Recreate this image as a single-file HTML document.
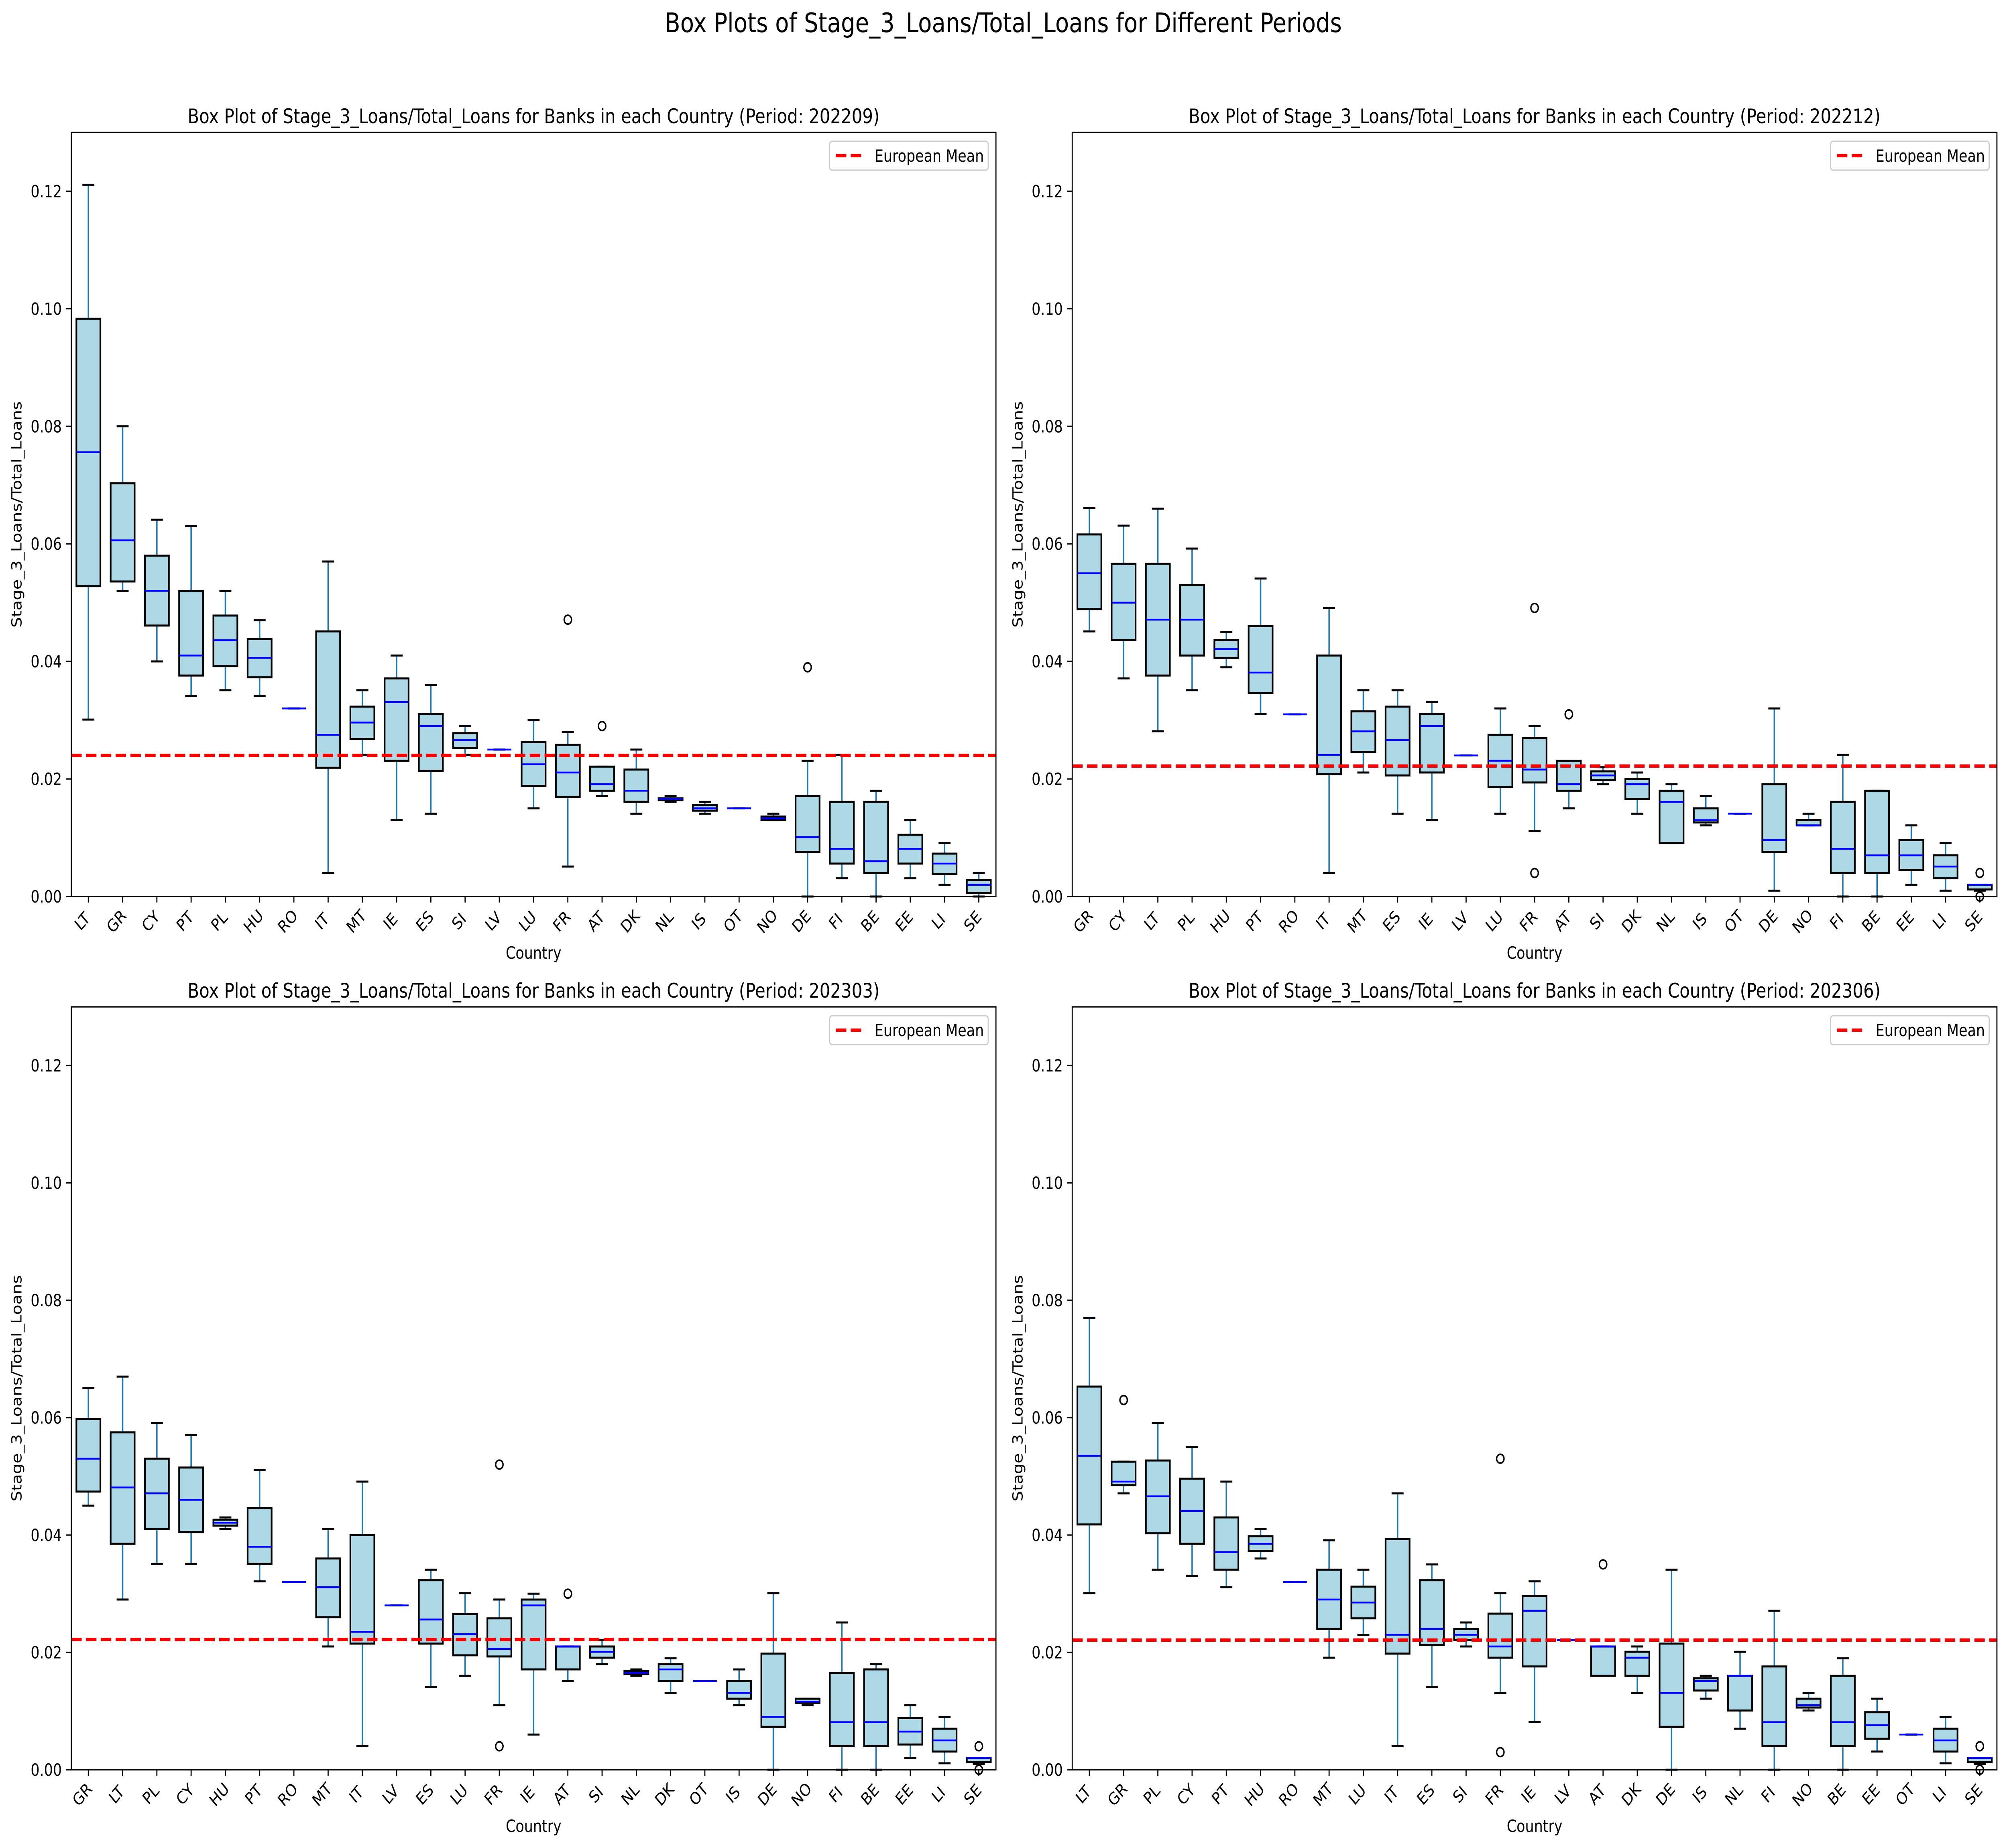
<!DOCTYPE html>
<html><head><meta charset="utf-8">
<style>html,body{margin:0;padding:0;background:#fff;overflow:hidden;width:100%;height:100%}svg{display:block;width:100vw;height:100vh}text{font-family:"DejaVu Sans","Liberation Sans",sans-serif;fill:#000}</style>
</head><body>
<svg id="fig" viewBox="0 0 5971 4605" preserveAspectRatio="none" xmlns="http://www.w3.org/2000/svg">
<rect width="5971" height="4605" fill="#fff"/>
<text x="2985" y="80" font-size="67" text-anchor="middle">Box Plots of Stage_3_Loans/Total_Loans for Different Periods</text>
</svg>
<script>
// Data arrays: [whiskerLow, q1, median, q3, whiskerHigh]
const periods = ["202209","202212","202303","202306"];
const means = [0.024, 0.0222, 0.0222, 0.0221];
const cats1 = ["LT","GR","CY","PT","PL","HU","RO","IT","MT","IE","ES","SI","LV","LU","FR","AT","DK","NL","IS","OT","NO","DE","FI","BE","EE","LI","SE"];
const stats1 = [[0.0301,0.0528,0.0756,0.0983,0.1211],[0.052,0.0536,0.0606,0.0703,0.080],[0.040,0.0461,0.052,0.058,0.0641],[0.0341,0.0376,0.041,0.052,0.063],[0.0351,0.0392,0.0436,0.0478,0.052],[0.0341,0.0373,0.0406,0.0438,0.047],[0.032,0.032,0.032,0.032,0.032],[0.004,0.0219,0.0275,0.0451,0.057],[0.0241,0.0268,0.0296,0.0323,0.0351],[0.013,0.0231,0.0331,0.0371,0.041],[0.0141,0.0214,0.029,0.0311,0.036],[0.0241,0.0253,0.0266,0.0278,0.029],[0.025,0.025,0.025,0.025,0.025],[0.015,0.0188,0.0225,0.0263,0.030],[0.0051,0.0169,0.0211,0.0258,0.028],[0.0171,0.018,0.0191,0.0221,0.0221],[0.0141,0.0161,0.018,0.0216,0.025],[0.0161,0.0164,0.0166,0.0167,0.0171],[0.0141,0.0146,0.015,0.0156,0.0161],[0.015,0.015,0.015,0.015,0.015],[0.013,0.013,0.0133,0.0136,0.0141],[0,0.0076,0.0101,0.0171,0.0231],[0.0031,0.0056,0.0081,0.0161,0.0241],[0,0.004,0.006,0.0161,0.018],[0.0031,0.0056,0.0081,0.0105,0.013],[0.002,0.0038,0.0056,0.0073,0.0091],[0,0.0006,0.002,0.0028,0.004]];
const outl1 = {"FR":[0.0471],"AT":[0.029],"DE":[0.039]};
const cats2 = ["GR","CY","LT","PL","HU","PT","RO","IT","MT","ES","IE","LV","LU","FR","AT","SI","DK","NL","IS","OT","DE","NO","FI","BE","EE","LI","SE"];
const stats2 = [[0.0451,0.0489,0.055,0.0616,0.0661],[0.0371,0.0436,0.050,0.0566,0.0631],[0.0281,0.0376,0.0471,0.0566,0.066],[0.0351,0.041,0.0471,0.053,0.0592],[0.039,0.0406,0.0421,0.0436,0.045],[0.0311,0.0346,0.0381,0.046,0.0541],[0.031,0.031,0.031,0.031,0.031],[0.004,0.0208,0.0241,0.041,0.0491],[0.0211,0.0246,0.0281,0.0315,0.0351],[0.0141,0.0206,0.0266,0.0323,0.0351],[0.013,0.0211,0.029,0.0311,0.0331],[0.024,0.024,0.024,0.024,0.024],[0.0141,0.0186,0.0231,0.0275,0.032],[0.0111,0.0194,0.0216,0.027,0.029],[0.015,0.018,0.0191,0.0231,0.0231],[0.0191,0.0198,0.0206,0.0213,0.022],[0.0141,0.0166,0.0191,0.020,0.0211],[0.0091,0.0091,0.0161,0.018,0.0191],[0.0121,0.0126,0.013,0.015,0.0171],[0.0141,0.0141,0.0141,0.0141,0.0141],[0.001,0.0076,0.0096,0.0191,0.032],[0.0121,0.0121,0.0121,0.013,0.0141],[0,0.004,0.0081,0.0161,0.0241],[0,0.004,0.007,0.018,0.018],[0.002,0.0045,0.007,0.0096,0.0121],[0.001,0.0031,0.0051,0.007,0.0091],[0.001,0.0012,0.002,0.002,0.002]];
const outl2 = {"FR":[0.0491,0.004],"AT":[0.031],"SE":[0.004,0]};
const cats3 = ["GR","LT","PL","CY","HU","PT","RO","MT","IT","LV","ES","LU","FR","IE","AT","SI","NL","DK","OT","IS","DE","NO","FI","BE","EE","LI","SE"];
const stats3 = [[0.045,0.0474,0.053,0.0598,0.065],[0.029,0.0385,0.0481,0.0575,0.067],[0.0351,0.041,0.0471,0.053,0.0591],[0.0351,0.0405,0.046,0.0515,0.057],[0.041,0.0416,0.0421,0.0426,0.043],[0.0321,0.0351,0.038,0.0446,0.0511],[0.032,0.032,0.032,0.032,0.032],[0.021,0.026,0.0311,0.036,0.041],[0.004,0.0215,0.0235,0.040,0.0491],[0.028,0.028,0.028,0.028,0.028],[0.0141,0.0215,0.0256,0.0323,0.0341],[0.016,0.0195,0.0231,0.0265,0.0301],[0.011,0.0193,0.0206,0.0258,0.029],[0.006,0.0171,0.028,0.029,0.030],[0.0151,0.0171,0.021,0.021,0.021],[0.018,0.0191,0.0201,0.021,0.0221],[0.016,0.0163,0.0165,0.0168,0.0171],[0.0131,0.0151,0.0171,0.018,0.019],[0.0151,0.0151,0.0151,0.0151,0.0151],[0.011,0.0121,0.0131,0.0151,0.0171],[0,0.0073,0.009,0.0198,0.0301],[0.011,0.0114,0.0116,0.0121,0.0121],[0,0.004,0.0081,0.0165,0.0251],[0,0.004,0.0081,0.0171,0.018],[0.002,0.0043,0.0065,0.0088,0.011],[0.0011,0.0031,0.005,0.007,0.009],[0.001,0.0013,0.002,0.002,0.002]];
const outl3 = {"FR":[0.052,0.004],"AT":[0.030],"SE":[0.004,0]};
const cats4 = ["LT","GR","PL","CY","PT","HU","RO","MT","LU","IT","ES","SI","FR","IE","LV","AT","DK","DE","IS","NL","FI","NO","BE","EE","OT","LI","SE"];
const stats4 = [[0.0301,0.0418,0.0535,0.0653,0.077],[0.0471,0.0485,0.0491,0.0525,0.0525],[0.0341,0.0403,0.0466,0.0527,0.0591],[0.033,0.0385,0.0441,0.0496,0.055],[0.0311,0.0341,0.0371,0.043,0.0491],[0.036,0.0373,0.0385,0.0398,0.041],[0.032,0.032,0.032,0.032,0.032],[0.0191,0.024,0.029,0.0341,0.0391],[0.023,0.0258,0.0285,0.0312,0.0341],[0.004,0.0198,0.023,0.0393,0.0471],[0.0141,0.0213,0.024,0.0323,0.035],[0.021,0.0221,0.023,0.024,0.0251],[0.0131,0.0191,0.021,0.0266,0.0301],[0.0081,0.0176,0.0271,0.0296,0.0321],[0.0221,0.0221,0.0221,0.0221,0.0221],[0.016,0.016,0.021,0.021,0.021],[0.0131,0.016,0.0191,0.0201,0.021],[0,0.0073,0.0131,0.0215,0.0341],[0.0121,0.0135,0.0151,0.0156,0.016],[0.007,0.0101,0.016,0.016,0.0201],[0,0.004,0.0081,0.0176,0.0271],[0.0101,0.0106,0.011,0.0121,0.0131],[0,0.004,0.0081,0.016,0.019],[0.0031,0.0053,0.0076,0.0098,0.0121],[0.006,0.006,0.006,0.006,0.006],[0.0011,0.0031,0.005,0.007,0.009],[0.001,0.0013,0.002,0.002,0.002]];
const outl4 = {"GR":[0.063],"FR":[0.053,0.003],"AT":[0.035],"SE":[0.004,0]};
const yTicks = [0,0.02,0.04,0.06,0.08,0.10,0.12];
const yTickLabels = ["0.00","0.02","0.04","0.06","0.08","0.10","0.12"];

const NS="http://www.w3.org/2000/svg";
const svg=document.getElementById('fig');
function mk(tag,attrs,parent){const e=document.createElementNS(NS,tag);for(const k in attrs)e.setAttribute(k,attrs[k]);(parent||svg).appendChild(e);return e;}
const panels=[
 {x0:212,x1:2963,y0:330,y1:2234,cats:cats1,stats:stats1,outl:outl1},
 {x0:3190,x1:5941,y0:330,y1:2234,cats:cats2,stats:stats2,outl:outl2},
 {x0:212,x1:2963,y0:2509,y1:4410,cats:cats3,stats:stats3,outl:outl3},
 {x0:3190,x1:5941,y0:2509,y1:4410,cats:cats4,stats:stats4,outl:outl4}
];
panels.forEach((p,pi)=>{
 const g=mk('g',{});
 
 
 const n=p.cats.length, sp=(p.x1-p.x0)/n;
 const xs=i=>p.x0+(i+0.5)*sp;
 const ys=v=>p.y1-(v/0.13)*(p.y1-p.y0);
 const t=mk('text',{x:(p.x0+p.x1)/2,y:p.y0-23,'font-size':50,'text-anchor':'middle'},g);
 t.textContent='Box Plot of Stage_3_Loans/Total_Loans for Banks in each Country (Period: '+periods[pi]+')';
 
 
 yTicks.forEach((v,k)=>{
  const y=ys(v);
  const tk=mk('line',{x1:p.x0-15,x2:p.x0,y1:y,y2:y,stroke:'#000','stroke-width':3.3},g);
  
  
  const tl=mk('text',{x:p.x0-28,y:y+15,'font-size':41.7,'text-anchor':'end'},g);
  tl.textContent=yTickLabels[k];
  
  
 });
 const yl=mk('text',{x:0,y:0,'font-size':41.7,'text-anchor':'middle',transform:`translate(${p.x0-148},${(p.y0+p.y1)/2}) rotate(-90)`},g);
 yl.textContent='Stage_3_Loans/Total_Loans';
 
 
 const xl=mk('text',{x:(p.x0+p.x1)/2,y:p.y1+155,'font-size':41.7,'text-anchor':'middle'},g);
 xl.textContent='Country';
 
 
 p.cats.forEach((c,i)=>{
  const x=xs(i), s=p.stats[i], bw=sp*0.7, cw=sp*0.35;
  const bg=mk('g',{},g);
  
  
  const tk=mk('line',{x1:x,x2:x,y1:p.y1,y2:p.y1+15,stroke:'#000','stroke-width':3.3},g);
  
  
  const tl=mk('text',{x:0,y:0,'font-size':41.7,'text-anchor':'middle',transform:`translate(${x-8},${p.y1+72}) rotate(-45)`},g);
  tl.textContent=c;
  
  
  mk('line',{x1:x,x2:x,y1:ys(s[0]),y2:ys(s[1]),stroke:'#1f77b4','stroke-width':4.2},bg);
  mk('line',{x1:x,x2:x,y1:ys(s[3]),y2:ys(s[4]),stroke:'#1f77b4','stroke-width':4.2},bg);
  mk('line',{x1:x-cw/2,x2:x+cw/2,y1:ys(s[0]),y2:ys(s[0]),stroke:'#000','stroke-width':5},bg);
  mk('line',{x1:x-cw/2,x2:x+cw/2,y1:ys(s[4]),y2:ys(s[4]),stroke:'#000','stroke-width':5},bg);
  mk('rect',{x:x-bw/2,y:ys(s[3]),width:bw,height:Math.max(0,ys(s[1])-ys(s[3])),fill:'#add8e6',stroke:'#000','stroke-width':5},bg);
  mk('line',{x1:x-bw/2,x2:x+bw/2,y1:ys(s[2]),y2:ys(s[2]),stroke:'#0000ff','stroke-width':4.5},bg);
  (p.outl[c]||[]).forEach(v=>{
   const o=mk('circle',{cx:x,cy:ys(v),r:11,fill:'none',stroke:'#000','stroke-width':4},bg);
   
   
  });
 });
 const ml=mk('line',{x1:p.x0,x2:p.x1,y1:ys(means[pi]),y2:ys(means[pi]),stroke:'#ff0000','stroke-width':8.3,'stroke-dasharray':'31 13'},g);
 
 
 const fr=mk('rect',{x:p.x0,y:p.y0,width:p.x1-p.x0,height:p.y1-p.y0,fill:'none',stroke:'#000','stroke-width':3.3},g);
 
 
 const lg=mk('g',{},g);
 
 
 mk('rect',{x:p.x1-495,y:p.y0+22,width:472,height:72,rx:8,fill:'#fff',stroke:'#cccccc','stroke-width':3.3},lg);
 mk('line',{x1:p.x1-476,x2:p.x1-400,y1:p.y0+58,y2:p.y0+58,stroke:'#ff0000','stroke-width':8.3,'stroke-dasharray':'31 13'},lg);
 const lt=mk('text',{x:p.x1-361,y:p.y0+73,'font-size':41.7},lg);
 lt.textContent='European Mean';
 
 
});
</script>
</body></html>
